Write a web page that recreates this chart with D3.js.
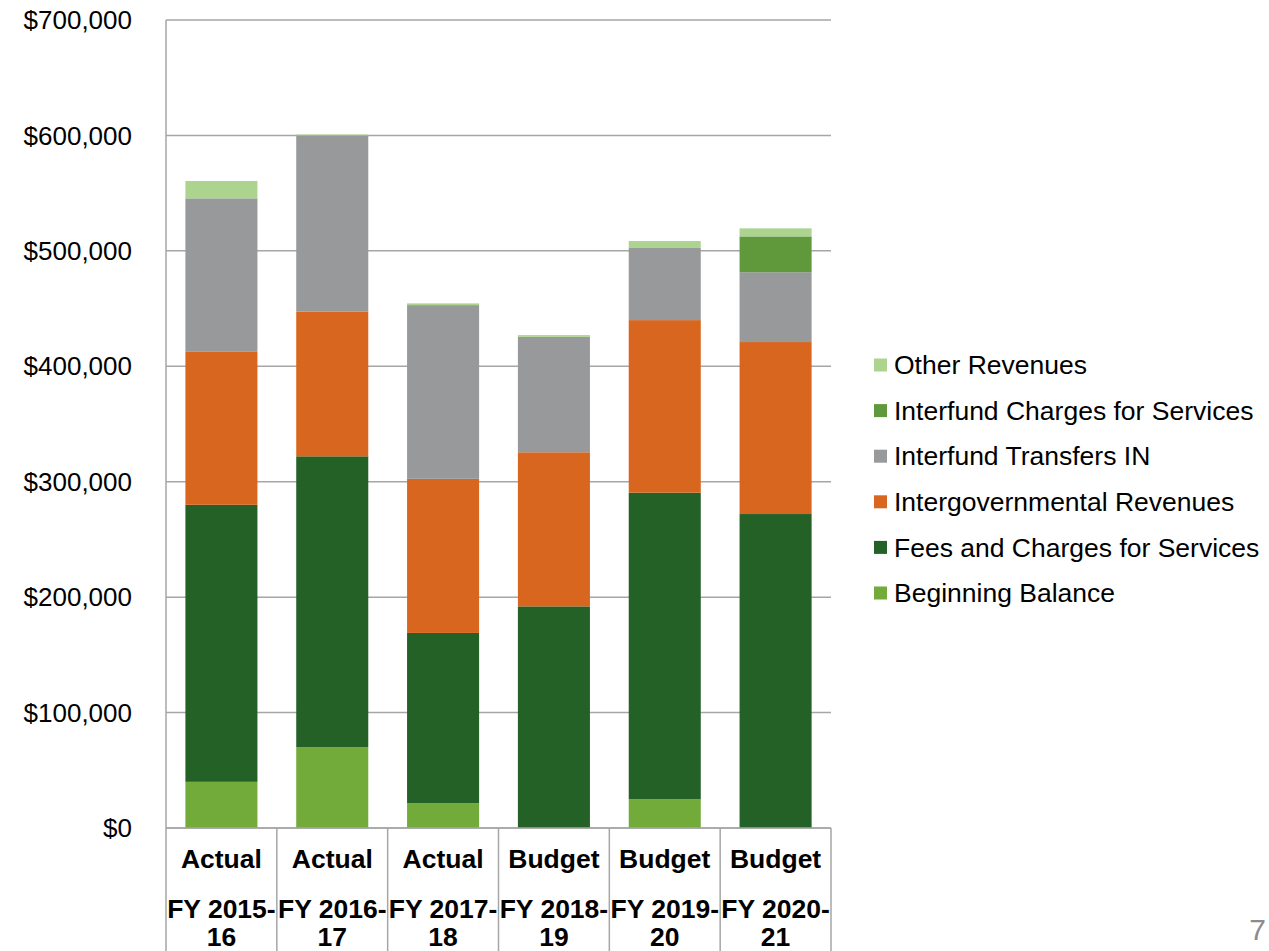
<!DOCTYPE html>
<html>
<head>
<meta charset="utf-8">
<script src="https://cdn.jsdelivr.net/npm/d3@7"></script>
<style>
  html, body { margin: 0; padding: 0; background: #fff; }
  svg { display: block; font-family: Arial, "Liberation Sans", sans-serif; }
</style>
</head>
<body>
<svg id="chart" width="1269" height="951"></svg>
<script>
// ---- data ----
const categoriesTop = ["Actual", "Actual", "Actual", "Budget", "Budget", "Budget"];
const categoriesYear = ["FY 2015-", "FY 2016-", "FY 2017-", "FY 2018-", "FY 2019-", "FY 2020-"];
const categoriesYear2 = ["16", "17", "18", "19", "20", "21"];
const beginningBalance = [40000, 70000, 21500, 0, 25000, 0];
const feesCharges = [240000, 252000, 147500, 192000, 265500, 272000];
const intergovernmental = [132500, 125500, 133500, 133500, 149500, 149000];
const transfersIn = [133000, 152500, 150500, 100000, 62500, 60500];
const interfundCharges = [0, 0, 0, 0, 0, 31000];
const otherRevenues = [15000, 800, 1500, 1500, 6000, 7000];
const yTicks = [0, 100000, 200000, 300000, 400000, 500000, 600000, 700000];
const seriesNames = ["Beginning Balance", "Fees and Charges for Services", "Intergovernmental Revenues",
                     "Interfund Transfers IN", "Interfund Charges for Services", "Other Revenues"];
const seriesColors = ["#73ab3b", "#236127", "#d9661e", "#98999b", "#5f993b", "#acd48f"];

const seriesValues = [beginningBalance, feesCharges, intergovernmental, transfersIn, interfundCharges, otherRevenues];
const rows = categoriesTop.map((c, i) => {
  const r = { idx: i };
  seriesNames.forEach((s, k) => r[s] = seriesValues[k][i]);
  return r;
});

const svg = d3.select("#chart");
const pLeft = 166, pRight = 831, pTop = 20, pBottom = 828;

const x = d3.scaleBand().domain(d3.range(categoriesTop.length)).range([pLeft, pRight]).paddingInner(0.35).paddingOuter(0.175);
const y = d3.scaleLinear().domain([0, 700000]).range([pBottom, pTop]);

// gridlines
svg.append("g").selectAll("line").data(yTicks).join("line")
  .attr("x1", pLeft).attr("x2", pRight)
  .attr("y1", d => y(d)).attr("y2", d => y(d))
  .attr("stroke", "#a6a6a6").attr("stroke-width", 1.5);

// y labels
const fmt = d => "$" + d3.format(",")(d);
svg.append("g").selectAll("text").data(yTicks).join("text")
  .attr("x", 132).attr("y", d => y(d)).attr("dy", "0.35em")
  .attr("text-anchor", "end").attr("font-size", 26).attr("fill", "#000")
  .text(fmt);

// stacked bars
const stack = d3.stack().keys(seriesNames);
const stacked = stack(rows);
svg.append("g").selectAll("g").data(stacked).join("g")
  .attr("fill", (d, i) => seriesColors[i])
  .selectAll("rect").data(d => d).join("rect")
  .attr("x", d => x(d.data.idx))
  .attr("width", x.bandwidth())
  .attr("y", d => y(d[1]))
  .attr("height", d => Math.max(0, y(d[0]) - y(d[1])));

// axis / table lines
const bandStep = (pRight - pLeft) / categoriesTop.length;
const sepX = d3.range(categoriesTop.length + 1).map(i => pLeft + i * bandStep);
svg.append("g").selectAll("line").data(sepX).join("line")
  .attr("x1", d => d).attr("x2", d => d)
  .attr("y1", (d, i) => i === 0 ? pTop : pBottom).attr("y2", 951)
  .attr("stroke", "#a6a6a6").attr("stroke-width", 1.5);
svg.append("line").attr("x1", pLeft).attr("x2", pRight).attr("y1", pBottom).attr("y2", pBottom)
  .attr("stroke", "#a6a6a6").attr("stroke-width", 1.5);

// category labels
const centers = d3.range(categoriesTop.length).map(i => pLeft + (i + 0.5) * bandStep);
const catG = svg.append("g").attr("font-weight", "bold").attr("font-size", 26.5).attr("text-anchor", "middle").attr("fill", "#000");
catG.selectAll("text.t").data(categoriesTop).join("text").attr("class", "t")
  .attr("x", (d, i) => centers[i]).attr("y", 868).text(d => d);
catG.selectAll("text.y1").data(categoriesYear).join("text").attr("class", "y1")
  .attr("x", (d, i) => centers[i]).attr("y", 918).text(d => d);
catG.selectAll("text.y2").data(categoriesYear2).join("text").attr("class", "y2")
  .attr("x", (d, i) => centers[i]).attr("y", 946).text(d => d);

// legend (reverse order, top = Other Revenues)
const legendItems = seriesNames.map((s, i) => ({ name: s, color: seriesColors[i] })).reverse();
const lg = svg.append("g").selectAll("g").data(legendItems).join("g")
  .attr("transform", (d, i) => `translate(874, ${365 + i * 45.6})`);
lg.append("rect").attr("x", 0).attr("y", -6.5).attr("width", 13).attr("height", 13).attr("fill", d => d.color);
lg.append("text").attr("x", 20).attr("y", 0).attr("dy", "0.35em").attr("font-size", 26.5).attr("fill", "#000").text(d => d.name);

// page number
svg.append("text").attr("x", 1266).attr("y", 940).attr("text-anchor", "end")
  .attr("font-size", 30).attr("fill", "#8c8c8c").text("7");
</script>
</body>
</html>
